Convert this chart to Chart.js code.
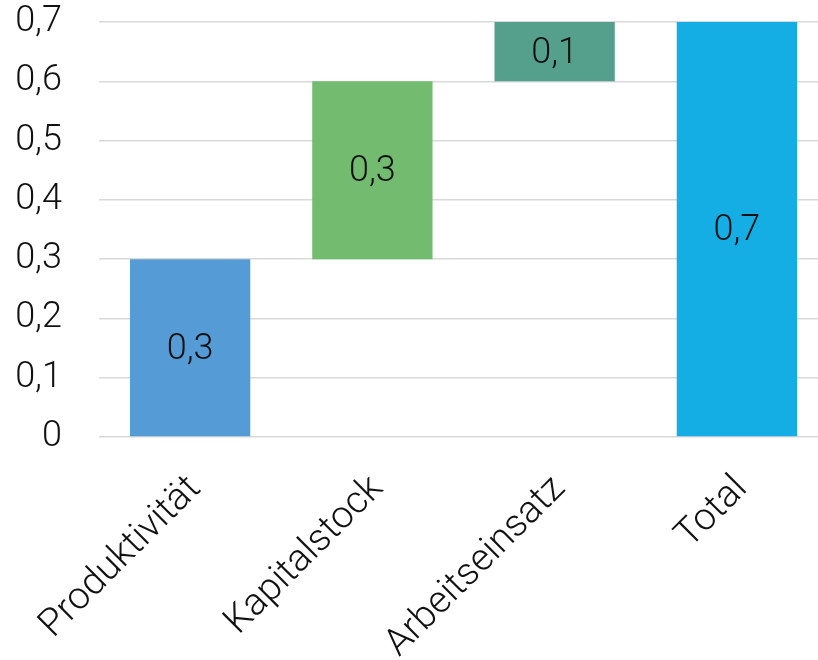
<!DOCTYPE html>
<html>
<head>
<meta charset="utf-8">
<script src="https://cdn.jsdelivr.net/npm/chart.js@4/dist/chart.umd.min.js"></script>
<style>
  html, body { margin: 0; padding: 0; background: #fff; overflow: hidden; }
  #wrap { width: 828px; height: 660px; }
</style>
</head>
<body>
<div id="wrap"><canvas id="waterfallChart"></canvas></div>
<script>
const categories = ["Produktivität", "Kapitalstock", "Arbeitseinsatz", "Total"];
const barStarts = [0, 0.3, 0.6, 0];
const barEnds = [0.3, 0.6, 0.7, 0.7];
const yTicks = [0, 0.1, 0.2, 0.3, 0.4, 0.5, 0.6, 0.7];

const barColors = ["#559BD5", "#72BB6F", "#559F8D", "#14AEE5"];
const fontFamily = "Roboto, 'Open Sans', sans-serif";

// floating bars: each one runs from its start to its end value
const ranges = barStarts.map((s, i) => [s, barEnds[i]]);

const fmt = v => v === 0 ? "0" : v.toFixed(1).replace(".", ",");

// writes the step size (end - start) in the middle of each bar
const stepLabels = {
  id: "stepLabels",
  afterDatasetsDraw(chart) {
    const ctx = chart.ctx;
    const meta = chart.getDatasetMeta(0);
    ctx.save();
    ctx.font = "300 36px " + fontFamily;
    ctx.fillStyle = "#111";
    ctx.textAlign = "center";
    ctx.textBaseline = "middle";
    meta.data.forEach((bar, i) => {
      const y = (bar.y + bar.base) / 2 + 2;
      ctx.fillText(fmt(barEnds[i] - barStarts[i]), bar.x, y);
    });
    ctx.restore();
  }
};

new Chart("waterfallChart", {
  type: "bar",
  data: {
    labels: categories,
    datasets: [
      {
        data: ranges,
        backgroundColor: barColors,
        borderSkipped: false,
        categoryPercentage: 1,
        barPercentage: 0.66
      }
    ]
  },
  options: {
    responsive: true,
    maintainAspectRatio: false,
    animation: false,
    layout: { padding: { top: 22, left: 0, right: 0, bottom: 0 } },
    plugins: {
      legend: { display: false },
      tooltip: { enabled: false }
    },
    scales: {
      x: {
        grid: { display: false },
        border: { display: false },
        afterFit(axis) {
          axis.height = 223;
          axis.paddingLeft = 0;
          axis.paddingRight = 0;
        },
        ticks: {
          color: "#111",
          font: { family: fontFamily, size: 38, weight: 300 },
          minRotation: 45,
          maxRotation: 45,
          padding: 22,
          labelOffset: 5
        }
      },
      y: {
        min: 0,
        max: 0.7,
        afterBuildTicks(axis) {
          axis.ticks = yTicks.map(v => ({ value: v }));
        },
        afterFit(axis) {
          axis.width = 99;
          axis.paddingTop = 0;
          axis.paddingBottom = 0;
        },
        grid: { color: "#d9d9d9", lineWidth: 1.5, drawTicks: false },
        border: { display: false },
        ticks: {
          color: "#111",
          font: { family: fontFamily, size: 36, weight: 300 },
          padding: 37,
          callback: v => fmt(v)
        }
      }
    }
  },
  plugins: [stepLabels]
});
</script>
</body>
</html>
